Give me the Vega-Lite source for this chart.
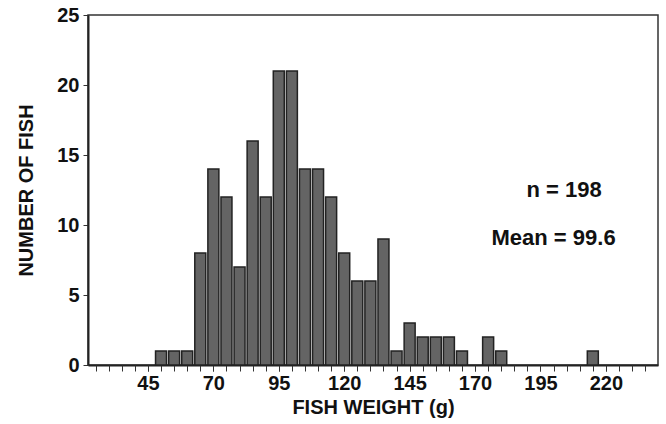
{
  "$schema": "https://vega.github.io/schema/vega-lite/v6.json",
  "width": 570,
  "height": 350,
  "autosize": {"type": "none"},
  "padding": {"left": 88, "top": 15, "right": 8, "bottom": 59},
  "background": "white",
  "config": {
    "view": {"stroke": "#333", "strokeWidth": 1.5},
    "font": "Liberation Sans",
    "axis": {
      "labelFont": "Liberation Sans",
      "titleFont": "Liberation Sans",
      "labelFontWeight": "bold",
      "titleFontWeight": "bold",
      "labelFontSize": 20,
      "titleFontSize": 20,
      "labelColor": "#111",
      "titleColor": "#111",
      "domainColor": "#222",
      "domainWidth": 2,
      "tickColor": "#333",
      "tickWidth": 1,
      "grid": false
    }
  },
  "resolve": {"axis": {"x": "independent"}},
  "data": {
    "values": [
      {"weight": 50, "count": 1}, {"weight": 55, "count": 1}, {"weight": 60, "count": 1},
      {"weight": 65, "count": 8}, {"weight": 70, "count": 14}, {"weight": 75, "count": 12},
      {"weight": 80, "count": 7}, {"weight": 85, "count": 16}, {"weight": 90, "count": 12},
      {"weight": 95, "count": 21}, {"weight": 100, "count": 21}, {"weight": 105, "count": 14},
      {"weight": 110, "count": 14}, {"weight": 115, "count": 12}, {"weight": 120, "count": 8},
      {"weight": 125, "count": 6}, {"weight": 130, "count": 6}, {"weight": 135, "count": 9},
      {"weight": 140, "count": 1}, {"weight": 145, "count": 3}, {"weight": 150, "count": 2},
      {"weight": 155, "count": 2}, {"weight": 160, "count": 2}, {"weight": 165, "count": 1},
      {"weight": 175, "count": 2}, {"weight": 180, "count": 1}, {"weight": 215, "count": 1}
    ]
  },
  "layer": [
    {
      "mark": {"type": "bar", "size": 11, "fill": "#646464", "stroke": "#222", "strokeWidth": 1.5},
      "encoding": {
        "x": {
          "field": "weight", "type": "quantitative",
          "scale": {"domain": [24, 238], "nice": false, "zero": false},
          "axis": {
            "title": "FISH WEIGHT (g)",
            "orient": "bottom",
            "values": [45, 70, 95, 120, 145, 170, 195, 220],
            "tickSize": 6,
            "labelPadding": 2,
            "titlePadding": 4,
            "labelFlush": false,
            "labelOverlap": false
          }
        },
        "y": {
          "field": "count", "type": "quantitative",
          "scale": {"domain": [0, 25], "nice": false},
          "axis": {
            "title": "NUMBER OF FISH",
            "values": [0, 5, 10, 15, 20, 25],
            "tickSize": 5,
            "labelPadding": 4,
            "titlePadding": 20
          }
        }
      }
    },
    {
      "data": {"values": [{"label": "n = 198", "px": 204, "py": 12.5}, {"label": "Mean = 99.6", "px": 200, "py": 9.1}]},
      "mark": {"type": "text", "font": "Liberation Sans", "fontWeight": "bold", "fontSize": 22, "color": "#111", "align": "center", "baseline": "middle"},
      "encoding": {
        "x": {
          "field": "px", "type": "quantitative",
          "scale": {"domain": [24, 238], "nice": false, "zero": false},
          "axis": {
            "orient": "bottom",
            "title": null,
            "labels": false,
            "domain": false,
            "tickSize": 6,
            "values": [25,30,35,40,45,50,55,60,65,70,75,80,85,90,95,100,105,110,115,120,125,130,135,140,145,150,155,160,165,170,175,180,185,190,195,200,205,210,215,220,225,230,235]
          }
        },
        "y": {"field": "py", "type": "quantitative"},
        "text": {"field": "label"}
      }
    }
  ]
}
